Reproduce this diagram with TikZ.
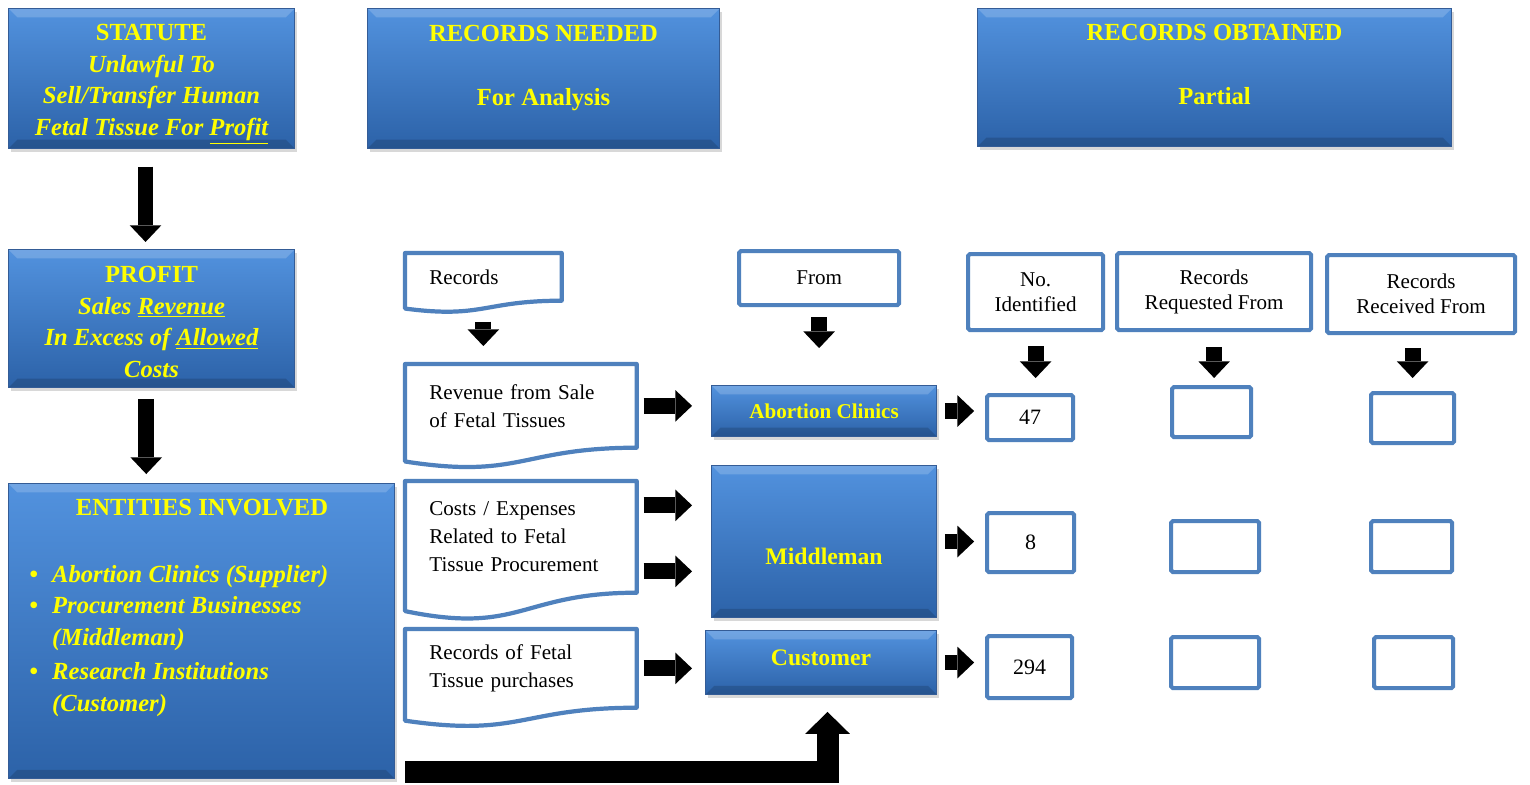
\documentclass[tikz,border=0pt]{standalone}
\usepackage{fontspec}
\setmainfont{Liberation Serif}
\usetikzlibrary{arrows.meta,calc,shadows}

\definecolor{boxtop}{RGB}{82,146,222}
\definecolor{boxbot}{RGB}{44,98,168}
\definecolor{boxedge}{RGB}{52,92,150}
\definecolor{frame}{RGB}{79,129,189}
\definecolor{yel}{RGB}{255,255,0}

\tikzset{
  sz/.style 2 args={minimum width=#1*0.02cm, minimum height=#2*0.02cm, anchor=north west},
  bluebox/.style={draw=boxedge, line width=0.6pt, top color=boxtop, bottom color=boxbot,
    drop shadow={opacity=0.3, shadow xshift=1.5pt, shadow yshift=-2pt},
    inner sep=0pt, align=center, text=yel, font=\bfseries\fontsize{14}{18.1}\selectfont,
    path picture={
      \fill[white, opacity=0.18] (path picture bounding box.north west) -- (path picture bounding box.north east)
        -- ([shift={(-5pt,-5pt)}]path picture bounding box.north east) -- ([shift={(5pt,-5pt)}]path picture bounding box.north west) -- cycle;
      \fill[black, opacity=0.15] (path picture bounding box.south west) -- (path picture bounding box.south east)
        -- ([shift={(-5pt,5pt)}]path picture bounding box.south east) -- ([shift={(5pt,5pt)}]path picture bounding box.south west) -- cycle;
    }},
  yeltext/.style={inner sep=0pt, text=yel, font=\bfseries\fontsize{14}{18.1}\selectfont},
  outbox/.style={draw=frame, line width=2.4pt, rounded corners=1pt, fill=white, inner sep=0pt,
    align=center, font=\fontsize{12}{14.2}\selectfont},
  numbox/.style={outbox, font=\fontsize{12.5}{14}\selectfont},
  docbox/.style={inner sep=0pt, text width=3.66cm, align=left, font=\fontsize{12}{15.9}\selectfont},
  docline/.style={draw=frame, line width=2.4pt, line join=round},
  arr/.style={line width=9pt, -{Triangle[width=18pt,length=9.5pt,line width=0pt]}},
  bigarr/.style={line width=12.5pt, -{Triangle[width=25.5pt,length=12.5pt,line width=0pt]}},
}

\begin{document}
\begin{tikzpicture}[x=0.02cm, y=-0.02cm]

\fill[white] (0,0) rectangle (1530,784);
\useasboundingbox (0,0) rectangle (1530,784);

%Header
\node[bluebox, sz={286}{140}] (statute) at (8,8)
  {\mbox{}\\[-2.3pt]STATUTE\\ \textit{Unlawful To}\\ \textit{Sell/Transfer Human}\\ \textit{Fetal Tissue For \underline{Profit}}};
\node[bluebox, sz={352}{140}] (needed) at (367,8) {\mbox{}\\[-6pt]RECORDS NEEDED\\ \mbox{}\\ For Analysis\\ \mbox{}};
\node[bluebox, sz={474}{138}] (obtained) at (977,8) {\mbox{}\\[-6pt]RECORDS OBTAINED\\ \mbox{}\\ Partial\\ \mbox{}};

\node[bluebox, sz={286}{138}] (profit) at (8,249)
  {\mbox{}\\[-5pt]PROFIT\\ \textit{Sales \underline{Revenue}}\\ \textit{In Excess of \underline{Allowed}}\\ \textit{Costs}};

%Entities
\node[bluebox, sz={386}{295}] (entities) at (8,483) {};
\node[yeltext, anchor=base] (enthead) at (202,515) {ENTITIES INVOLVED};
\node[yeltext, anchor=base west, align=left, font=\bfseries\itshape\fontsize{14}{18.1}\selectfont] (entlist) at (29,711)
  {\makebox[13pt][l]{\textbullet}Abortion Clinics (Supplier)\\
   \makebox[13pt][l]{\textbullet}Procurement Businesses\\
   \hspace*{13pt}(Middleman)\\[1pt]
   \makebox[13pt][l]{\textbullet}Research Institutions\\
   \hspace*{13pt}(Customer)};

%Documents
\node[docbox, text width=2.16cm, sz={156}{47}] (records) at (405,253) {Records};
\node[docbox, sz={231}{83}] (revenue) at (405,364) {Revenue from Sale\\ of Fetal Tissues};
\node[docbox, sz={231}{111}] (costs) at (405,481) {Costs / Expenses\\ Related to Fetal\\ Tissue Procurement};
\node[docbox, sz={231}{78}] (purch) at (405,629) {Records of Fetal\\ Tissue purchases};

\foreach \d in {records,revenue,costs,purch}{
  \draw[docline] ($(\d.south west)!-0.1646!(\d.north west)$) -- (\d.north west) -- (\d.north east) -- (\d.south east)
    .. controls (\d.south) and ($(\d.south)!-0.38!(\d.north)$) .. ($(\d.south west)!-0.1646!(\d.north west)$) -- cycle;
}

%Entities in the middle
\node[outbox, sz={160}{54}] (from) at (737,249) {From};
\node[bluebox, font=\bfseries\fontsize{12}{14}\selectfont, sz={225}{51}] (clinics) at (711,385) {Abortion Clinics};
\node[bluebox, font=\bfseries\fontsize{13.5}{16}\selectfont, text height=26pt, text depth=0pt,
  sz={225}{152}] (middleman) at (711,465) {Middleman};
\node[bluebox, font=\bfseries\fontsize{13.5}{16}\selectfont, text depth=6pt,
  sz={231}{64}] (customer) at (705,630) {Customer};

%Records obtained
\node[outbox, sz={135}{76}] (noid) at (966,252) {No.\\ Identified};
\node[outbox, sz={194}{77}] (req) at (1115,251) {Records\\ Requested From};
\node[outbox, sz={188}{78}] (recv) at (1325,253) {Records\\ Received From};

\node[numbox, sz={86}{45}] (n47) at (985,393) {47};
\node[numbox, sz={87}{59}] (n8) at (985,511) {8};
\node[numbox, sz={85}{62}] (n294) at (985,634) {294};

\node[outbox, sz={79}{50}] (req1) at (1170,385) {};
\node[outbox, sz={83}{50}] (recv1) at (1369,391) {};
\node[outbox, sz={88}{51}] (req2) at (1169,519) {};
\node[outbox, sz={81}{51}] (recv2) at (1369,519) {};
\node[outbox, sz={88}{51}] (req3) at (1169,635) {};
\node[outbox, sz={79}{51}] (recv3) at (1372,635) {};

%Arrows
\draw[arr, shorten <=10pt, shorten >=4pt] ([xshift=-3.4pt]statute.south) -- ([xshift=-3.4pt]profit.north);
\draw[arr, shorten <=6.2pt, shorten >=5.1pt] ([xshift=-3pt]profit.south) -- ([xshift=-3pt]profit.south |- entities.north);

\draw[arr, shorten <=11.9pt, shorten >=10.2pt] (records.south) -- (records.south |- revenue.north);
\draw[arr, shorten <=5.7pt, shorten >=21pt] (from.south) -- (from.south |- clinics.north);

\coordinate (c1) at ($(costs.east)+(0,-31.5)$);
\coordinate (c2) at ($(costs.east)+(0,34.5)$);
\draw[arr, shorten <=4pt, shorten >=10.8pt] (revenue.east) -- (revenue.east -| clinics.west);
\draw[arr, shorten <=4pt, shorten >=10.8pt] (c1) -- (c1 -| middleman.west);
\draw[arr, shorten <=4pt, shorten >=10.8pt] (c2) -- (c2 -| middleman.west);
\draw[arr, shorten <=4pt, shorten >=7.4pt] (purch.east) -- (purch.east -| customer.west);

\draw[arr, shorten <=4.5pt, shorten >=6.2pt] (clinics.east) -- (clinics.east -| n47.west);
\draw[arr, shorten <=4.5pt, shorten >=6.2pt] (middleman.east) -- (middleman.east -| n8.west);
\draw[arr, shorten <=4.5pt, shorten >=6.2pt] (customer.east) -- (customer.east -| n294.west);

\draw[arr, shorten <=8pt, shorten >=8.5pt] (noid.south) -- (noid.south |- n47.north);
\draw[arr, shorten <=8.5pt, shorten >=4pt] (req.south) -- (req.south |- req1.north);
\draw[arr, shorten <=7.4pt, shorten >=7.4pt] (recv1.north |- recv.south) -- (recv1.north);

\coordinate (lstart) at (405,772);
\draw[bigarr, shorten >=9.6pt] (lstart) -| ([xshift=3.7pt]customer.south);

\end{tikzpicture}
\end{document}
